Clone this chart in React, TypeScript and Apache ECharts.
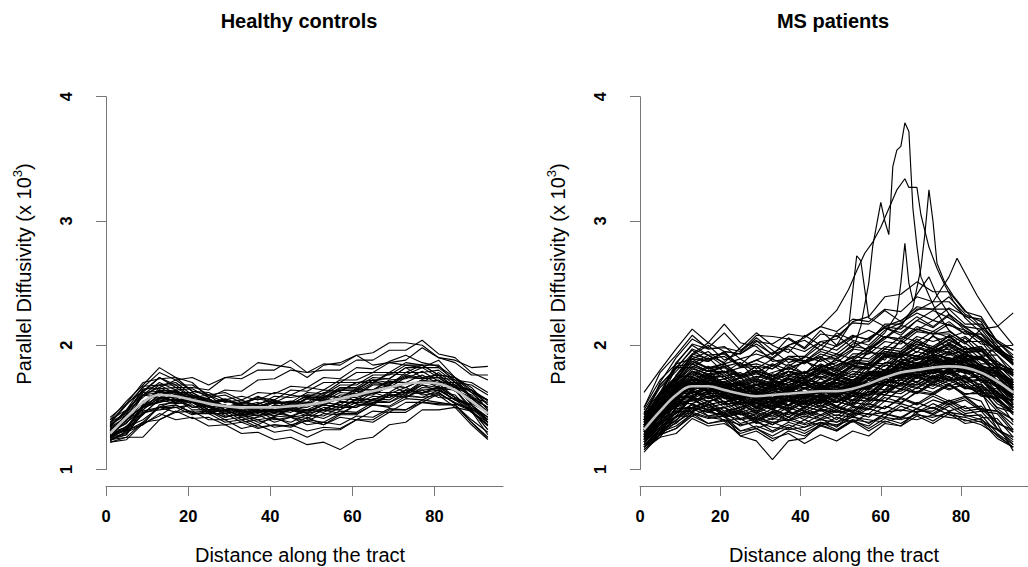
import React, { useEffect, useRef } from 'react';
import * as echarts from 'echarts';

// Sample positions along the tract (x)
const positions = [1, 5, 9, 13, 17, 21, 25, 29, 33, 37, 41, 45, 49, 53, 57, 61, 65, 69, 73, 77, 81, 85, 89, 93];
const xTicks = [0, 20, 40, 60, 80];

// Values below are parallel diffusivity x 100 (e.g. 152 = 1.52)
const healthyMean = [129, 142, 154, 160, 159, 156, 153, 151, 150, 150, 150, 151, 152, 154, 157, 160, 163, 166, 169, 170, 169, 164, 155, 145];
const healthyCurves = [
  [132,141,150,166,160,162,155,150,147,153,156,148,145,153,157,156,164,168,162,171,169,158,149,140],
  [125,128,150,157,163,156,148,147,140,142,145,143,141,148,148,157,156,161,166,160,162,153,149,138],
  [138,153,163,174,168,168,160,162,156,162,161,167,166,174,173,182,181,187,192,186,183,174,166,152],
  [128,131,147,150,152,145,145,138,140,134,136,135,142,136,144,144,152,150,157,156,162,153,147,135],
  [140,155,168,182,174,170,158,164,163,172,173,180,178,185,184,192,194,202,202,200,190,188,182,183],
  [122,124,137,143,152,146,147,140,142,136,143,142,148,148,155,153,159,158,164,164,165,156,147,128],
  [135,147,158,168,161,160,154,155,153,159,153,155,154,162,163,170,170,177,176,182,174,172,158,150],
  [130,134,152,154,157,148,148,142,145,143,148,142,144,141,147,146,154,154,162,161,167,158,152,142],
  [126,142,153,164,156,157,150,152,146,148,146,154,153,160,158,164,164,172,173,179,171,168,152,140],
  [133,139,160,166,172,163,162,156,159,156,162,160,166,164,172,172,178,178,186,184,184,170,162,148],
  [124,130,136,152,154,157,148,150,144,147,140,142,136,138,136,143,142,149,148,154,153,152,140,130],
  [136,146,164,168,168,158,157,148,150,148,154,154,162,161,170,170,172,173,182,174,176,166,164,156],
  [128,134,140,150,146,147,140,140,133,136,130,132,126,132,132,140,138,146,146,154,152,152,138,125],
  [131,144,160,158,158,150,152,146,152,150,156,151,157,156,164,164,172,170,170,170,172,163,157,147],
  [127,140,148,158,155,156,148,151,145,150,148,150,148,154,152,160,160,167,166,172,166,166,154,146],
  [142,153,170,173,174,163,160,150,152,146,148,146,152,152,160,160,168,168,178,178,180,170,168,160],
  [125,133,144,157,156,158,150,152,145,148,143,149,147,152,150,157,156,162,162,168,163,160,146,136],
  [134,142,162,163,164,155,152,143,144,138,141,138,144,143,150,150,157,156,164,162,164,156,152,140],
  [129,138,148,161,158,160,154,157,152,158,156,164,163,170,170,178,178,186,184,184,176,174,158,150],
  [138,145,165,165,166,158,160,154,156,151,154,152,160,158,165,165,172,166,174,173,174,166,164,155],
  [123,131,138,150,150,152,145,145,138,140,134,136,131,134,133,140,140,148,148,156,154,152,138,126],
  [132,140,160,162,162,154,156,150,154,152,159,158,160,160,168,168,176,176,184,182,182,172,170,162],
  [126,135,145,156,153,154,146,148,143,146,143,148,146,152,150,156,154,160,158,164,158,157,146,138],
  [140,148,167,168,170,160,157,148,148,143,150,148,154,148,154,154,162,162,170,170,178,168,164,152],
  [130,140,151,164,162,162,154,156,151,152,146,148,143,150,148,154,153,160,160,168,166,164,150,142],
  [124,126,138,140,147,141,142,136,138,133,136,134,140,138,145,145,152,151,159,158,164,156,152,138],
  [137,152,166,178,172,174,168,174,173,180,180,188,178,180,180,188,188,196,196,204,193,190,178,172],
  [128,132,152,158,164,156,157,150,152,146,152,150,158,158,166,166,174,173,182,182,188,174,164,148],
  [133,141,150,160,154,156,150,152,147,150,145,151,150,156,156,163,161,168,166,172,170,170,158,150],
  [126,129,145,150,156,150,151,145,148,145,152,150,157,155,162,161,169,168,175,173,174,164,158,144],
  [135,148,160,170,164,165,158,160,154,157,154,160,158,164,163,170,170,178,178,184,176,174,162,156],
  [129,133,150,154,160,155,157,151,152,146,148,143,148,146,152,150,156,154,160,158,160,150,147,136],
  [131,144,154,164,158,159,153,156,151,154,148,150,145,148,145,152,152,160,161,170,168,167,153,146],
  [127,132,150,155,161,154,154,148,151,149,155,153,159,157,164,163,170,169,176,174,176,166,160,145],
  [136,144,153,163,156,154,146,148,143,148,146,153,152,159,158,165,164,171,170,176,169,168,158,154],
  [124,128,146,148,150,144,147,142,145,140,142,136,139,136,142,140,147,146,154,154,161,154,148,132],
  [126,132,136,145,140,142,135,136,129,130,124,126,120,122,116,124,126,136,138,148,148,150,136,124],
  [122,126,126,140,146,154,148,148,142,144,138,142,139,145,144,152,152,160,158,166,165,164,148,132],
  [134,148,162,174,166,166,164,174,176,186,184,182,174,184,186,192,184,186,188,198,190,186,176,176],
  [130,137,155,160,163,154,150,145,147,143,146,150,154,152,158,158,162,158,164,162,166,158,150,140],
];

const msMean = [132, 147, 160, 167, 167, 164, 161, 159, 160, 161, 162, 163, 163, 165, 169, 174, 178, 180, 182, 183, 182, 178, 171, 162];
const msCurves = [
  [130,152,160,168,167,165,155,163,156,165,158,167,160,169,169,175,177,181,182,184,182,179,167,160],
  [125,136,153,156,158,153,153,146,154,148,157,150,158,152,163,162,169,168,175,172,173,165,163,150],
  [138,157,167,179,175,175,167,171,168,173,171,175,172,179,177,186,187,191,190,195,187,189,177,170],
  [120,128,143,146,153,142,145,137,141,139,143,140,144,142,149,145,153,149,156,152,156,147,145,130],
  [140,162,175,189,181,185,175,183,173,185,177,189,180,188,187,197,195,205,197,208,197,197,183,175],
  [135,146,168,169,173,165,169,159,168,164,168,165,173,169,177,175,186,183,189,185,188,177,179,168],
  [128,144,152,165,161,161,153,158,151,159,155,159,155,163,160,173,169,179,174,181,173,177,162,155],
  [122,132,149,150,155,147,150,142,149,142,151,147,151,147,158,155,165,162,171,165,169,160,158,145],
  [142,158,169,183,179,179,171,175,172,176,173,181,173,183,181,191,190,198,193,201,194,195,183,178],
  [128,138,159,159,167,157,159,151,155,151,159,155,165,165,178,179,189,185,193,189,191,179,175,160],
  [118,130,135,145,141,143,135,139,131,138,134,141,134,143,137,145,142,149,145,153,145,147,133,124],
  [145,166,179,193,189,191,183,185,181,189,185,193,189,197,195,207,203,213,209,211,203,203,187,178],
  [133,144,165,167,174,163,165,159,166,162,169,161,170,165,176,173,185,181,189,182,187,177,175,164],
  [126,143,151,163,157,160,150,154,149,156,149,158,151,160,159,168,167,175,171,179,171,173,160,150],
  [136,150,169,172,177,167,171,164,171,165,173,168,175,170,179,179,189,185,193,188,193,183,181,170],
  [124,138,145,159,152,155,146,150,145,152,147,155,148,156,155,163,163,171,167,174,166,169,155,148],
  [140,154,175,175,182,173,176,168,175,170,178,173,178,174,185,183,193,189,197,192,197,185,185,172],
  [132,148,157,169,163,167,160,168,165,173,165,169,161,169,167,178,175,183,178,185,179,181,167,160],
  [131,143,161,161,168,158,161,153,160,156,162,157,163,159,169,168,178,174,182,177,182,172,171,158],
  [142,162,173,187,181,183,175,179,175,182,177,185,179,187,185,195,193,201,197,205,197,199,185,180],
  [120,130,146,147,153,144,147,139,146,140,147,143,148,144,153,149,158,153,161,155,159,149,147,132],
  [150,172,185,201,197,199,189,193,189,199,195,203,199,207,205,215,213,223,215,225,215,213,197,190],
  [116,126,129,141,135,137,129,133,127,134,129,136,131,139,131,139,135,143,137,145,137,139,125,118],
  [134,148,167,168,175,166,169,161,169,163,171,166,172,168,178,176,187,183,191,186,191,181,179,168],
  [127,142,151,164,158,161,152,156,151,158,153,160,154,162,160,171,169,177,173,180,173,175,161,154],
  [134,146,165,165,169,157,158,149,153,147,155,153,163,161,173,173,183,179,187,182,187,177,177,166],
  [138,160,169,179,169,169,159,163,157,165,160,167,161,169,167,177,175,183,180,187,179,181,167,160],
  [130,144,163,165,170,161,164,155,161,155,161,155,160,155,163,160,169,165,173,167,171,162,161,148],
  [134,150,159,173,167,171,163,168,164,173,169,178,175,185,185,197,195,203,199,207,197,197,183,176],
  [122,134,143,158,155,158,148,153,148,155,150,157,151,159,157,168,165,174,170,177,170,172,159,152],
  [138,152,173,177,183,175,178,170,177,172,179,174,180,176,186,185,195,191,199,194,199,189,187,176],
  [122,138,145,157,150,153,144,148,143,150,145,152,146,154,152,163,161,169,165,172,165,167,153,146],
  [144,160,183,185,192,183,186,178,185,180,187,182,188,184,194,193,203,199,207,202,207,197,195,184],
  [118,132,137,149,143,146,137,141,136,142,137,144,138,146,142,151,147,154,149,156,149,151,138,130],
  [132,150,158,172,162,168,156,164,155,166,158,168,160,170,166,178,175,185,178,188,180,182,168,164],
  [140,150,170,170,180,168,174,164,172,166,176,168,178,170,184,180,192,184,196,188,194,182,182,168],
  [124,144,150,164,154,160,148,156,148,158,150,160,150,162,156,170,164,176,168,180,170,172,158,156],
  [150,178,192,208,197,198,195,208,207,205,197,209,207,218,217,228,219,231,229,229,217,217,202,196],
  [148,168,181,197,192,193,183,188,183,191,187,195,191,199,197,207,205,213,209,217,209,209,195,188],
  [114,128,133,143,137,140,131,135,130,136,131,138,132,140,133,141,137,145,139,147,139,141,127,118],
  [131,145,164,165,171,162,165,157,164,159,166,161,167,163,173,172,182,178,186,181,186,176,175,163],
  [129,148,156,169,163,166,157,161,156,163,158,165,159,167,165,176,174,182,178,185,178,180,167,161],
  [134,152,163,177,170,173,164,168,163,170,165,173,167,175,173,184,182,190,186,193,187,191,181,180],
  [126,138,156,157,163,154,157,149,156,151,158,153,159,155,165,164,174,170,178,172,175,163,157,138],
  [140,160,171,185,179,183,174,178,173,179,175,182,176,184,182,193,191,199,195,202,195,197,183,178],
  [120,132,149,149,155,145,148,140,147,142,149,144,150,146,156,155,165,161,169,164,169,159,157,144],
  [136,154,165,179,173,177,168,172,167,174,169,177,172,181,181,193,193,203,195,197,189,191,177,170],
  [124,134,153,153,159,150,153,145,152,147,154,149,155,151,161,160,170,166,174,169,174,164,163,150],
  [140,162,167,175,167,170,161,165,160,167,162,169,163,171,169,180,178,186,182,189,182,184,171,165],
  [120,128,151,157,167,159,162,154,161,156,162,157,163,159,169,168,178,174,182,177,182,172,171,158],
  [140,160,175,191,187,195,193,201,193,197,187,191,183,191,189,199,197,207,203,207,197,197,183,178],
  [118,126,143,143,149,139,141,133,138,133,140,135,142,138,145,142,151,146,153,147,151,142,141,126],
  [136,154,165,179,173,175,167,171,166,173,168,175,169,177,175,186,184,192,188,195,188,190,177,171],
  [124,136,155,155,161,152,155,147,154,149,156,151,157,153,163,162,172,168,176,171,176,166,165,153],
  [136,154,164,170,176,166,168,160,168,164,170,162,172,166,178,176,186,180,190,184,190,180,180,164],
  [126,138,158,158,166,154,160,150,160,152,162,154,162,156,168,164,178,170,182,172,182,170,170,152],
  [138,154,172,182,176,170,174,178,172,168,174,180,176,172,180,190,194,188,196,200,192,188,182,170],
  [122,134,150,156,150,146,150,154,148,144,150,156,150,146,154,164,168,162,170,174,166,162,156,146],
  [142,160,173,187,182,185,176,180,175,182,177,184,178,186,184,195,193,201,197,204,197,199,185,180],
  [120,130,147,147,152,143,146,138,145,139,146,141,147,143,151,149,157,152,159,153,158,148,147,136],
  [132,149,157,170,164,167,158,162,157,164,159,166,160,168,166,177,175,181,173,175,165,165,149,140],
  [132,146,165,165,171,162,165,157,164,159,166,161,168,165,177,179,193,191,199,193,195,183,179,166],
  [130,147,155,168,162,165,156,160,155,162,157,164,158,166,164,175,173,181,177,184,177,179,166,160],
  [134,148,167,168,174,165,168,160,167,162,169,164,170,166,176,175,185,181,189,184,189,179,178,166],
  [118,128,133,145,137,139,127,131,123,131,127,135,131,139,135,145,141,149,144,151,143,144,129,120],
  [146,162,185,189,195,185,189,181,189,183,191,187,193,189,199,197,207,203,211,206,211,201,199,188],
  [125,142,151,164,158,161,152,156,151,158,153,160,154,162,160,171,169,177,173,179,167,163,137,115],
  [136,150,169,170,176,167,170,162,169,164,171,166,172,168,178,177,187,183,191,186,193,189,199,200],
  [118,132,139,153,147,150,141,145,140,147,142,149,143,151,149,160,158,166,162,169,159,155,133,120],
  [140,158,171,185,179,182,173,177,172,179,174,181,175,183,181,192,190,198,194,201,194,196,183,177],
  [162,180,197,213,202,195,182,183,175,179,172,179,175,183,181,191,187,195,191,199,191,191,177,172],
  [134,152,169,193,202,217,202,199,187,189,187,197,193,203,195,207,205,215,211,219,209,209,195,188],
  [125,140,147,159,147,143,127,123,108,123,125,137,135,145,145,155,153,163,161,169,161,161,147,140],
  [122,134,142,153,143,143,131,133,125,129,121,128,123,131,127,137,135,147,147,155,147,149,137,132],
  [120,132,142,150,146,150,140,144,136,146,140,148,140,150,148,158,154,162,160,168,160,164,150,146],
  [144,156,182,182,190,178,186,172,184,176,188,178,190,180,196,188,204,194,208,196,206,192,192,176],
  [134,152,161,173,169,173,165,169,167,175,173,183,181,193,193,203,201,211,209,209,201,213,215,226],
  [136,154,165,179,175,179,175,183,181,191,191,203,205,219,223,239,241,251,243,243,227,223,203,192],
  [138,156,167,181,177,179,169,173,169,179,177,189,189,201,203,217,217,229,229,239,225,219,197,184],
  [140,160,173,189,187,195,193,203,201,209,207,215,211,221,219,229,227,239,235,235,223,221,203,190],
  [128,146,162,165,170,160,163,156,162,158,165,160,166,162,172,170,180,176,184,180,183,176,172,158],
  [134,150,157,170,163,167,158,162,158,165,160,167,161,170,168,178,176,184,179,186,179,181,167,164],
  [130,142,161,162,166,158,156,150,156,152,158,156,164,162,170,168,176,173,180,178,180,172,168,156],
  [136,152,162,174,170,170,164,166,162,168,166,170,166,172,172,180,180,186,184,190,184,184,172,168],
  [126,144,156,162,160,158,154,154,150,156,154,160,158,166,166,174,174,180,180,184,182,176,170,156],
  [132,150,166,172,170,166,160,158,154,156,152,156,154,160,162,170,172,180,182,188,186,182,176,170],
  [138,148,163,168,172,168,170,166,170,168,172,170,174,172,176,178,182,180,184,182,180,174,166,156],
  [124,140,158,166,164,160,156,156,154,158,158,162,162,168,170,176,180,184,186,188,184,178,166,150],
  [132,144,158,170,170,168,162,160,162,164,160,158,160,162,168,170,176,182,186,188,190,184,178,168],
  [128,148,164,170,166,162,158,160,164,166,168,170,168,170,174,176,178,176,178,180,178,172,162,150],
  [134,146,160,164,168,166,164,162,160,158,160,162,164,168,172,178,184,188,192,190,186,180,170,162],
  [130,144,154,160,162,160,158,158,160,164,166,168,166,166,168,172,174,178,180,182,184,182,176,166],
  [126,140,154,162,164,162,160,162,158,156,158,160,162,164,166,170,172,176,178,178,174,168,158,146],
  [136,156,168,172,170,166,162,158,156,158,162,166,170,172,176,180,182,186,188,186,182,176,168,158],
  [130,146,162,170,168,164,160,158,160,162,162,164,164,166,170,174,178,180,182,184,182,178,170,162],
  [140,170,190,205,198,210,196,204,192,206,198,212,200,208,204,214,210,220,214,224,212,206,196,186],
  [136,160,186,200,192,186,198,210,200,194,208,200,196,206,212,206,216,212,220,216,212,204,192,180],
  [132,150,176,192,200,188,194,206,196,186,190,200,208,198,206,214,208,220,228,222,214,206,196,190],
  [145,168,182,196,188,194,184,196,190,200,204,196,210,204,200,212,218,226,220,230,224,214,204,196],
  [118,130,140,150,146,144,140,142,138,140,136,140,138,142,140,138,142,140,144,142,140,136,128,118],
  [122,136,146,152,148,150,144,146,142,146,144,148,146,148,144,146,148,146,150,144,142,138,132,126],
  [116,128,138,146,142,140,136,138,134,132,134,138,136,140,138,142,140,144,142,146,144,140,132,122],
];

// Outlier MS curves with sharp peaks: [position, value x 100]
const msPeakCurves = [
  [[1,128],[5,144],[9,160],[13,168],[17,170],[21,168],[25,166],[29,168],[33,172],[37,176],[41,178],[45,182],[49,186],[53,196],[55,215],[57,250],[58,280],[60,315],[61,300],[62,289],[63,344],[64,357],[65,360],[66,379],[67,372],[68,310],[69,280],[70,255],[72,240],[74,226],[77,212],[81,202],[85,192],[89,180],[93,168]],
  [[1,134],[5,150],[9,166],[13,174],[17,176],[21,178],[25,182],[29,188],[33,194],[37,200],[41,206],[45,215],[49,228],[52,245],[54,260],[56,274],[58,283],[60,295],[62,310],[64,325],[66,334],[67,327],[69,327],[70,305],[72,279],[74,262],[76,248],[78,236],[81,222],[85,210],[89,198],[93,186]],
  [[1,135],[5,150],[9,165],[13,172],[17,172],[21,170],[25,168],[29,168],[33,170],[37,172],[41,174],[45,178],[49,182],[53,188],[57,196],[61,205],[65,215],[68,230],[70,262],[71,290],[72,325],[73,300],[74,266],[76,250],[78,240],[81,228],[85,215],[89,200],[93,185]],
  [[1,130],[5,146],[9,160],[13,166],[17,166],[21,164],[25,162],[29,164],[33,166],[37,170],[41,174],[45,178],[49,184],[53,190],[57,198],[61,210],[64,225],[65,250],[66,282],[67,250],[68,236],[70,246],[72,255],[74,240],[77,225],[81,215],[85,205],[89,195],[93,185]],
  [[1,132],[5,148],[9,162],[13,168],[17,170],[21,168],[25,170],[29,174],[33,178],[37,182],[41,186],[45,190],[49,200],[52,215],[54,272],[55,268],[57,222],[61,215],[65,220],[69,228],[73,235],[77,255],[79,270],[81,258],[84,240],[88,220],[93,200]],
];

const panelTitles = ['Healthy controls', 'MS patients'];
const xAxisTitle = 'Distance along the tract';

const FONT = '"Liberation Sans", Arial, Helvetica, sans-serif';

function App() {
  const ref = useRef<HTMLDivElement>(null);

  useEffect(() => {
    if (!ref.current) return;
    const chart = echarts.init(ref.current, null, { renderer: 'svg' });

    const toPts = (vals: number[]) =>
      positions.map((x, i) => [x, vals[i] / 100]).filter((p) => !isNaN(p[1] as number));
    const pairPts = (pairs: number[][]) => pairs.map((p) => [p[0], p[1] / 100]);

    const panelLeft = [106, 640];
    const grids = panelLeft.map((l) => ({ left: l, top: 96.7, width: 397, height: 372.8, containLabel: false }));

    const axisColor = '#777777';
    const xAxes = panelLeft.map((_, i) => ({
      type: 'value',
      gridIndex: i,
      min: 0,
      max: 96.68,
      offset: 16.5,
      position: 'bottom',
      axisLine: { show: true, lineStyle: { color: axisColor, width: 1 } },
      axisTick: { show: true, length: 10, customValues: xTicks, lineStyle: { color: axisColor, width: 1 } },
      axisLabel: {
        customValues: xTicks,
        margin: 21,
        fontFamily: FONT,
        fontWeight: 'bold',
        fontSize: 16.5,
        color: '#000',
      },
      splitLine: { show: false },
    }));
    const yAxes = panelLeft.map((_, i) => ({
      type: 'value',
      gridIndex: i,
      min: 1,
      max: 4,
      interval: 1,
      offset: 11,
      position: 'left',
      axisLine: { show: true, lineStyle: { color: axisColor, width: 1 } },
      axisTick: { show: true, length: 10, lineStyle: { color: axisColor, width: 1 } },
      axisLabel: {
        rotate: 90,
        margin: 21,
        fontFamily: FONT,
        fontWeight: 'bold',
        fontSize: 16.5,
        color: '#000',
      },
      splitLine: { show: false },
    }));

    const series: any[] = [];
    const curveLine = (data: any[], idx: number, w: number) => ({
      type: 'line',
      xAxisIndex: idx,
      yAxisIndex: idx,
      data,
      symbol: 'none',
      showSymbol: false,
      silent: true,
      clip: false,
      z: 2,
      lineStyle: { color: '#000', width: w },
    });
    healthyCurves.forEach((c) => series.push(curveLine(toPts(c), 0, 1.1)));
    msCurves.forEach((c) => series.push(curveLine(toPts(c), 1, 1.15)));
    msPeakCurves.forEach((c) => series.push(curveLine(pairPts(c), 1, 1.15)));
    [healthyMean, msMean].forEach((m, i) =>
      series.push({
        type: 'line',
        xAxisIndex: i,
        yAxisIndex: i,
        data: toPts(m),
        symbol: 'none',
        showSymbol: false,
        silent: true,
        smooth: 0.4,
        z: 5,
        lineStyle: { color: '#c4c4c4', width: 2.6 },
      })
    );

    const centers = [299, 833];
    const yTitleX = [23.5, 557.5];
    const graphic: any[] = [];
    centers.forEach((cx, i) => {
      graphic.push({
        type: 'text',
        x: cx,
        y: 21,
        style: {
          text: panelTitles[i],
          fontFamily: FONT,
          fontWeight: 'bold',
          fontSize: 20,
          fill: '#000',
          align: 'center',
          verticalAlign: 'middle',
          textAlign: 'center',
          textVerticalAlign: 'middle',
        },
      });
      graphic.push({
        type: 'text',
        x: cx + 1,
        y: 555,
        style: {
          text: xAxisTitle,
          fontFamily: FONT,
          fontSize: 20,
          fill: '#000',
          align: 'center',
          verticalAlign: 'middle',
          textAlign: 'center',
          textVerticalAlign: 'middle',
        },
      });
      graphic.push({
        type: 'text',
        x: yTitleX[i],
        y: 274,
        rotation: Math.PI / 2,
        style: {
          text: '{n|Parallel Diffusivity (x 10}{s|3}{n|)}',
          fontFamily: FONT,
          fontSize: 20,
          fill: '#000',
          align: 'center',
          verticalAlign: 'middle',
          textAlign: 'center',
          textVerticalAlign: 'middle',
          rich: {
            n: { fontFamily: FONT, fontSize: 20, lineHeight: 26, fill: '#000' },
            s: { fontFamily: FONT, fontSize: 13, lineHeight: 13, verticalAlign: 'top', fill: '#000' },
          },
        },
      });
    });

    chart.setOption({
      animation: false,
      backgroundColor: '#ffffff',
      grid: grids,
      xAxis: xAxes,
      yAxis: yAxes,
      series,
      graphic,
    });

    return () => chart.dispose();
  }, []);

  return <div ref={ref} style={{ position: 'absolute', left: 0, top: 0, width: 1028, height: 567 }} />;
}

export default App;
